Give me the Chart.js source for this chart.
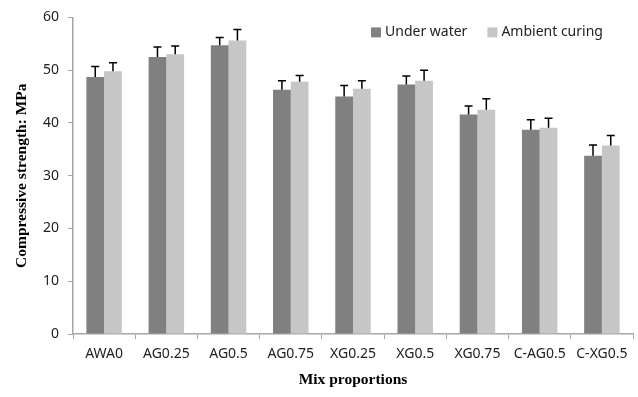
<!DOCTYPE html>
<html>
<head>
<meta charset="utf-8">
<script src="https://cdn.jsdelivr.net/npm/chart.js@4"></script>
<style>
  body { margin: 0; background: #fff; }
</style>
</head>
<body>
<canvas id="chart" width="638" height="397"></canvas>
<script>
// Compressive strength per mix
const mixes = ["AWA0", "AG0.25", "AG0.5", "AG0.75", "XG0.25", "XG0.5", "XG0.75", "C-AG0.5", "C-XG0.5"];
const underWater = [48.7, 52.5, 54.7, 46.3, 45.0, 47.3, 41.6, 38.7, 33.8];
const underWaterErr = [2.0, 1.9, 1.5, 1.7, 2.1, 1.6, 1.6, 1.9, 2.0];
const ambient = [49.8, 53.0, 55.6, 47.8, 46.5, 48.0, 42.5, 39.1, 35.7];
const ambientErr = [1.6, 1.6, 2.1, 1.2, 1.5, 2.0, 2.1, 1.8, 1.9];
const yTicks = [0, 10, 20, 30, 40, 50, 60];

const sansFont = "'Noto Sans', sans-serif";
const serifFont = "'Liberation Serif', 'Times New Roman', serif";

// draws the upper error bar of each bar
const errorBars = {
    id: "errorBars",
    afterDatasetsDraw(chart) {
        const ctx = chart.ctx;
        const yScale = chart.scales.y;
        ctx.save();
        ctx.strokeStyle = "#000";
        ctx.lineWidth = 1.5;
        chart.data.datasets.forEach((ds, i) => {
            const meta = chart.getDatasetMeta(i);
            meta.data.forEach((bar, j) => {
                const top = yScale.getPixelForValue(ds.data[j] + ds.errors[j]);
                ctx.beginPath();
                ctx.moveTo(bar.x, bar.y);
                ctx.lineTo(bar.x, top);
                ctx.moveTo(bar.x - 4, top);
                ctx.lineTo(bar.x + 4, top);
                ctx.stroke();
            });
        });
        ctx.restore();
    }
};

// legend inside the plot, top right
const insideLegend = {
    id: "insideLegend",
    afterDraw(chart) {
        const ctx = chart.ctx;
        const area = chart.chartArea;
        let x = area.left + 298;
        const y = area.top + 15;
        ctx.save();
        ctx.font = "14px " + sansFont;
        ctx.textBaseline = "middle";
        chart.data.datasets.forEach(ds => {
            ctx.fillStyle = ds.backgroundColor;
            ctx.fillRect(x, y - 5, 10, 10);
            ctx.fillStyle = "#222";
            ctx.fillText(ds.label, x + 14, y);
            x += 14 + ctx.measureText(ds.label).width + 20;
        });
        ctx.restore();
    }
};

new Chart(document.getElementById("chart"), {
    type: "bar",
    data: {
        labels: mixes,
        datasets: [
            {
                label: "Under water",
                data: underWater,
                errors: underWaterErr,
                backgroundColor: "#808080"
            },
            {
                label: "Ambient curing",
                data: ambient,
                errors: ambientErr,
                backgroundColor: "#c6c6c6"
            }
        ]
    },
    options: {
        responsive: false,
        animation: false,
        layout: { padding: { top: 15, right: 5, left: 0, bottom: 0 } },
        datasets: {
            bar: { categoryPercentage: 0.57, barPercentage: 1.0 }
        },
        plugins: {
            legend: { display: false },
            tooltip: { enabled: false }
        },
        scales: {
            x: {
                grid: {
                    offset: true,
                    drawOnChartArea: false,
                    tickLength: 5,
                    color: "#a6a6a6"
                },
                border: { color: "#a6a6a6", width: 1.5 },
                ticks: {
                    padding: 7,
                    maxRotation: 0,
                    autoSkip: false,
                    color: "#222",
                    font: { family: sansFont, size: 14 }
                },
                title: {
                    display: true,
                    text: "Mix proportions",
                    color: "#000",
                    padding: { bottom: 8 },
                    font: { family: serifFont, size: 15.5, weight: "bold" }
                },
                afterFit(scale) { scale.height = 63; }
            },
            y: {
                min: 0,
                max: 60,
                afterBuildTicks(scale) {
                    scale.ticks = yTicks.map(v => ({ value: v }));
                },
                grid: {
                    drawOnChartArea: false,
                    tickLength: 5,
                    color: "#a6a6a6"
                },
                border: { color: "#a6a6a6", width: 1.5 },
                ticks: {
                    padding: 9,
                    color: "#222",
                    font: { family: sansFont, size: 14 }
                },
                title: {
                    display: true,
                    text: "Compressive strength: MPa",
                    color: "#000",
                    padding: { top: 13 },
                    font: { family: serifFont, size: 15.5, weight: "bold" }
                },
                afterFit(scale) { scale.width = 73; }
            }
        }
    },
    plugins: [errorBars, insideLegend]
});
</script>
</body>
</html>
